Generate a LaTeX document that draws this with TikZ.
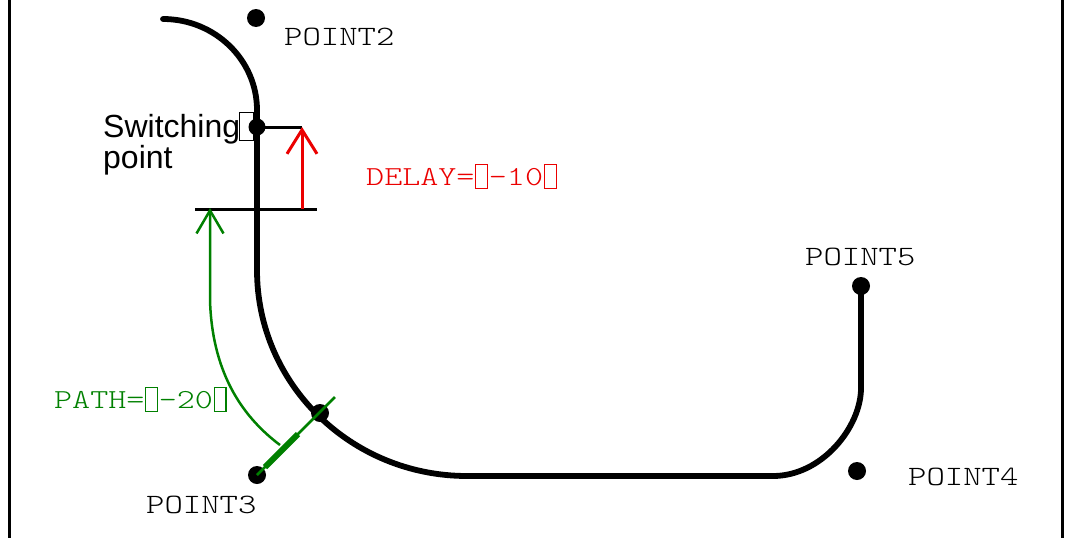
\documentclass[tikz,border=0pt]{standalone}
\usepackage{fontspec}
\setmainfont{Liberation Sans}
\newfontfamily\monofont{Latin Modern Mono Light}[FakeStretch=1.25]
\usetikzlibrary{arrows.meta}
\definecolor{pathgreen}{RGB}{0,128,0}
\definecolor{delayred}{RGB}{235,0,0}
\newcommand{\tofu}[1]{\makebox[#1]{\raisebox{-0.1em}{\fboxsep0pt\fboxrule0.04em\fbox{\rule{0pt}{0.84em}\hspace{0.38em}}}}}
\tikzset{
  track/.style={line width=5.8pt, line cap=round, line join=round},
  thinblack/.style={line width=3pt},
  framel/.style={line width=3pt},
  dotnode/.style={circle, fill=black, draw=none, inner sep=0pt, minimum size=18pt},
  monolabel/.style={inner sep=0pt, anchor=base west, font=\monofont\fontsize{28}{34}\selectfont},
  smallmono/.style={inner sep=0pt, anchor=base west, font=\monofont\fontsize{27.5}{33}\selectfont},
  sanslabel/.style={inner sep=0pt, anchor=base west, font=\fontsize{32}{36}\selectfont},
  redarrow/.style={draw=delayred, line width=3pt, -{Straight Barb[length=24pt,width=30pt,line width=3pt]}},
  greenarrow/.style={draw=pathgreen, line width=2.5pt, -{Straight Barb[length=23pt,width=27pt,line width=2.5pt]}}
}
\begin{document}
\begin{tikzpicture}[x=1pt,y=-1pt]
\useasboundingbox (0,0) rectangle (1070,538);
% frame
\draw[framel] (9.5,0) -- (9.5,538);
\draw[framel] (1062.5,0) -- (1062.5,538);
% coordinates of the track
\coordinate (tstart) at (163,19);
\coordinate (tv1) at (257,110);
\coordinate (tv2) at (257,270);
\coordinate (tb1) at (467,476);
\coordinate (tb2) at (773,476);
\coordinate (tr1) at (861,388);
% texts
\node[sanslabel] (sw1) at (103,137) {Switching\tofu{0.4em}};
\node[sanslabel] (sw2) at (103,168) {point};
\node[monolabel] (l2) at (284,45) {POINT2};
\node[monolabel] (l5) at (805,265) {POINT5};
\node[monolabel] (l4) at (908,485) {POINT4};
\node[monolabel] (l3) at (146,513) {POINT3};
\node[smallmono, text=delayred] (delay) at (366,185) {DELAY=\tofu{0.525em}-10\tofu{0.525em}};
\node[smallmono, text=pathgreen] (pathl) at (54,408) {PATH=\tofu{0.525em}-20\tofu{0.525em}};
% dots
\node[dotnode] (p2) at (256,18) {};
\node[dotnode, minimum size=17pt] (sp) at (257,127) {};
\node[dotnode] (pp) at (320,413) {};
\node[dotnode] (p3) at (257,475) {};
\node[dotnode] (p4) at (857,471) {};
\node[dotnode] (p5) at (861,286) {};
% main track
\draw[track] (tstart) .. controls (215,19) and (257,60) .. (tv1) -- (tv2)
  .. controls (257,384) and (351,476) .. (tb1) -- (tb2)
  .. controls (822,476) and (861,427) .. (tr1) -- (p5.center);
% black marker lines
\coordinate (rtop) at (302,127);
\coordinate (rbot) at (302,209);
\coordinate (hl) at (195,209);
\coordinate (hr) at (317,209);
\draw[thinblack] (sp.center) -- (rtop);
\draw[thinblack] (hl) -- (hr);
% red delay arrow
\draw[redarrow] (rbot) -- (rtop);
% green tick through the path point
\coordinate (gtick) at (335,397);
\coordinate (gthick1) at (265,467);
\coordinate (gthick2) at (298,434);
\draw[draw=pathgreen, line width=2.5pt] (p3.center) -- (gtick);
\draw[draw=pathgreen, line width=6pt] (gthick1) -- (gthick2);
% green path arrow
\coordinate (gA) at (280,445);
\coordinate (gB) at (210,208);
\draw[greenarrow] (gA) .. controls (240,415) and (212,370) .. (210,300) -- (gB);
\end{tikzpicture}
\end{document}
